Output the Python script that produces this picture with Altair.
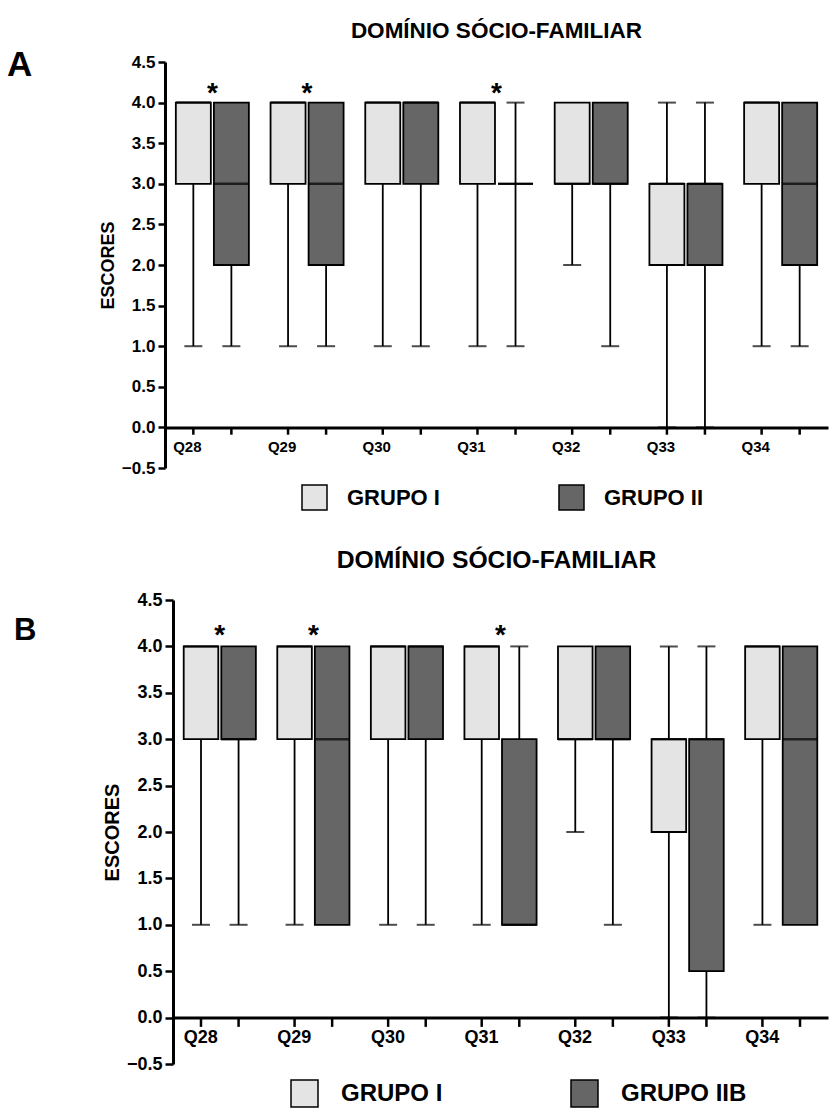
import altair as alt
import pandas as pd

FONT = "Liberation Sans"

questions = ["Q28", "Q29", "Q30", "Q31", "Q32", "Q33", "Q34"]
groups_a = ["GRUPO I", "GRUPO II"]
groups_b = ["GRUPO I", "GRUPO IIB"]
signif_a = ["Q28", "Q29", "Q31"]
signif_b = ["Q28", "Q29", "Q31"]
y_ticks = [-0.5, 0.0, 0.5, 1.0, 1.5, 2.0, 2.5, 3.0, 3.5, 4.0, 4.5]

# Panel A - GRUPO I
a1_min = [1, 1, 1, 1, 2, 0, 1]
a1_q1 = [3, 3, 3, 3, 3, 2, 3]
a1_med = [4, 4, 4, 4, 3, 3, 4]
a1_q3 = [4, 4, 4, 4, 4, 3, 4]
a1_max = [4, 4, 4, 4, 4, 4, 4]
# Panel A - GRUPO II
a2_min = [1, 1, 1, 1, 1, 0, 1]
a2_q1 = [2, 2, 3, 3, 3, 2, 2]
a2_med = [3, 3, 4, 3, 3, 3, 3]
a2_q3 = [4, 4, 4, 3, 4, 3, 4]
a2_max = [4, 4, 4, 4, 4, 4, 4]

# Panel B - GRUPO I
b1_min = [1, 1, 1, 1, 2, 0, 1]
b1_q1 = [3, 3, 3, 3, 3, 2, 3]
b1_med = [4, 4, 4, 4, 3, 3, 4]
b1_q3 = [4, 4, 4, 4, 4, 3, 4]
b1_max = [4, 4, 4, 4, 4, 4, 4]
# Panel B - GRUPO IIB
b2_min = [1, 1, 1, 1, 1, 0, 1]
b2_q1 = [3, 1, 3, 1, 3, 0.5, 1]
b2_med = [3, 3, 4, 1, 3, 3, 3]
b2_q3 = [4, 4, 4, 3, 4, 3, 4]
b2_max = [4, 4, 4, 4, 4, 4, 4]

LIGHT = "#e4e4e4"
DARK = "#666666"


def build(groups, series):
    rows = []
    for g, (mn, q1, md, q3, mx) in zip(groups, series):
        for i, q in enumerate(questions):
            rows.append(dict(question=q, group=g, lo=mn[i], q1=q1[i], med=md[i], q3=q3[i], hi=mx[i]))
    return pd.DataFrame(rows)


def caps(df):
    rows = []
    for _, r in df.iterrows():
        if r["lo"] < r["q1"]:
            rows.append(dict(question=r["question"], group=r["group"], v=r["lo"]))
        if r["hi"] > r["q3"]:
            rows.append(dict(question=r["question"], group=r["group"], v=r["hi"]))
    return pd.DataFrame(rows)


def panel(df, groups, signif, letter, s):
    x = alt.X("question:N", sort=questions,
              scale=alt.Scale(paddingInner=0, paddingOuter=0, range=[s["x0"], s["w"]]),
              axis=alt.Axis(title=None, ticks=False, labelAngle=0, labelOffset=s["lab_off"],
                            labelPadding=s["lab_pad"], labelFontSize=s["xlab"], labelFont=FONT,
                            labelFontWeight="bold", labelColor="black", domainColor="black",
                            domainWidth=3, offset=s["xoff"]))
    xo = alt.XOffset("group:N", sort=groups, scale=alt.Scale(paddingInner=0.08, paddingOuter=0.285))
    ys = alt.Scale(domain=[-0.5, 4.5], nice=False, zero=False)
    yax = alt.Axis(values=y_ticks, format=".1f", grid=False, title="ESCORES", titleFont=FONT,
                   titleFontSize=s["ytitle"], titleFontWeight="bold", titleColor="black",
                   titlePadding=s["tpad"], labelFont=FONT, labelFontSize=s["ylab"],
                   labelFontWeight="bold", labelColor="black", labelPadding=3,
                   tickSize=s["tsize"], tickWidth=2.5, tickColor="black",
                   domainColor="black", domainWidth=3, offset=-s["x0"])

    base = alt.Chart(df)
    whisk = base.mark_rule(color="black", strokeWidth=1.8).encode(
        x=x, xOffset=xo, y=alt.Y("lo:Q", scale=ys, axis=yax), y2="hi:Q")
    cap = alt.Chart(caps(df)).mark_tick(color="black", thickness=2, size=s["cap"]).encode(
        x=x, xOffset=xo, y=alt.Y("v:Q", scale=ys, axis=yax))
    box = base.mark_bar(stroke="black", strokeWidth=1.8, opacity=1).encode(
        x=x, xOffset=xo, y=alt.Y("q1:Q", scale=ys, axis=yax), y2="q3:Q",
        color=alt.Color("group:N", sort=groups,
                        scale=alt.Scale(domain=groups, range=[LIGHT, DARK]),
                        legend=alt.Legend(title=None, orient="none", legendX=s["lx"], legendY=s["ly"],
                                          direction="horizontal", symbolType="square",
                                          symbolSize=s["sym"] ** 2, symbolStrokeColor="black",
                                          symbolStrokeWidth=1.5, symbolOpacity=1,
                                          labelFont=FONT, labelFontSize=s["leg"],
                                          labelFontWeight="bold", labelColor="black",
                                          labelOffset=s["loff"], columnPadding=s["colpad"],
                                          padding=0, labelLimit=400)))
    med = base.mark_tick(color="black", thickness=2.5, size=s["box"]).encode(
        x=x, xOffset=xo, y=alt.Y("med:Q", scale=ys, axis=yax))
    ticks = base.mark_rule(color="black", strokeWidth=2.5).encode(
        x=x, xOffset=xo, y=alt.Y(datum=0, scale=ys, axis=yax), y2=alt.datum(-s["tick"]))
    star = alt.Chart(pd.DataFrame({"question": signif})).mark_text(
        text="*", font=FONT, fontSize=s["star"], fontWeight="bold", baseline="alphabetic",
        dy=s["stardy"], color="black").encode(x=x, y=alt.Y(datum=4.2, scale=ys, axis=yax))
    lab = alt.Chart(pd.DataFrame({"t": [letter]})).mark_text(
        font=FONT, fontSize=s["letter"], fontWeight="bold", align="left", baseline="alphabetic",
        color="black").encode(text="t:N", x=alt.value(s["letx"]), y=alt.value(s["lety"]))

    return alt.layer(whisk, cap, box, med, ticks, star, lab).properties(
        width=s["w"], height=s["h"],
        title=alt.TitleParams("DOMÍNIO SÓCIO-FAMILIAR", font=FONT, fontSize=s["title"],
                              fontWeight="bold", color="black", anchor="middle",
                              offset=s["toff"]))


sa = dict(w=663, x0=0, h=406, lab_off=-25, lab_pad=12, xlab=15, xoff=-40.6, ytitle=18, tpad=4,
          ylab=17, tsize=7, cap=18, box=35, tick=0.09, star=28, stardy=16, letter=35,
          letx=-158, lety=14, lx=136, ly=422, sym=25, leg=22, loff=19, colpad=116,
          title=22.5, toff=6)
sb = dict(w=663, x0=8, h=464, lab_off=-19, lab_pad=11, xlab=18, xoff=-46.4, ytitle=20, tpad=4,
          ylab=18, tsize=8, cap=18, box=35, tick=0.1, star=28, stardy=16, letter=31,
          letx=-151, lety=40, lx=125, ly=479, sym=27, leg=24, loff=22, colpad=125,
          title=24.7, toff=18)

chart_a = panel(build(groups_a, [(a1_min, a1_q1, a1_med, a1_q3, a1_max),
                                 (a2_min, a2_q1, a2_med, a2_q3, a2_max)]),
                groups_a, signif_a, "A", sa)
chart_b = panel(build(groups_b, [(b1_min, b1_q1, b1_med, b1_q3, b1_max),
                                 (b2_min, b2_q1, b2_med, b2_q3, b2_max)]),
                groups_b, signif_b, "B", sb)

chart = alt.concat(chart_a, chart_b, columns=1, spacing=33).resolve_scale(
    x="independent", y="independent", color="independent", xOffset="independent"
).properties(
    padding={"left": 6, "top": 19, "right": 0, "bottom": 0}
).configure_view(stroke="transparent")

chart.save("out.html", embed_options={"renderer": "svg", "actions": False})
